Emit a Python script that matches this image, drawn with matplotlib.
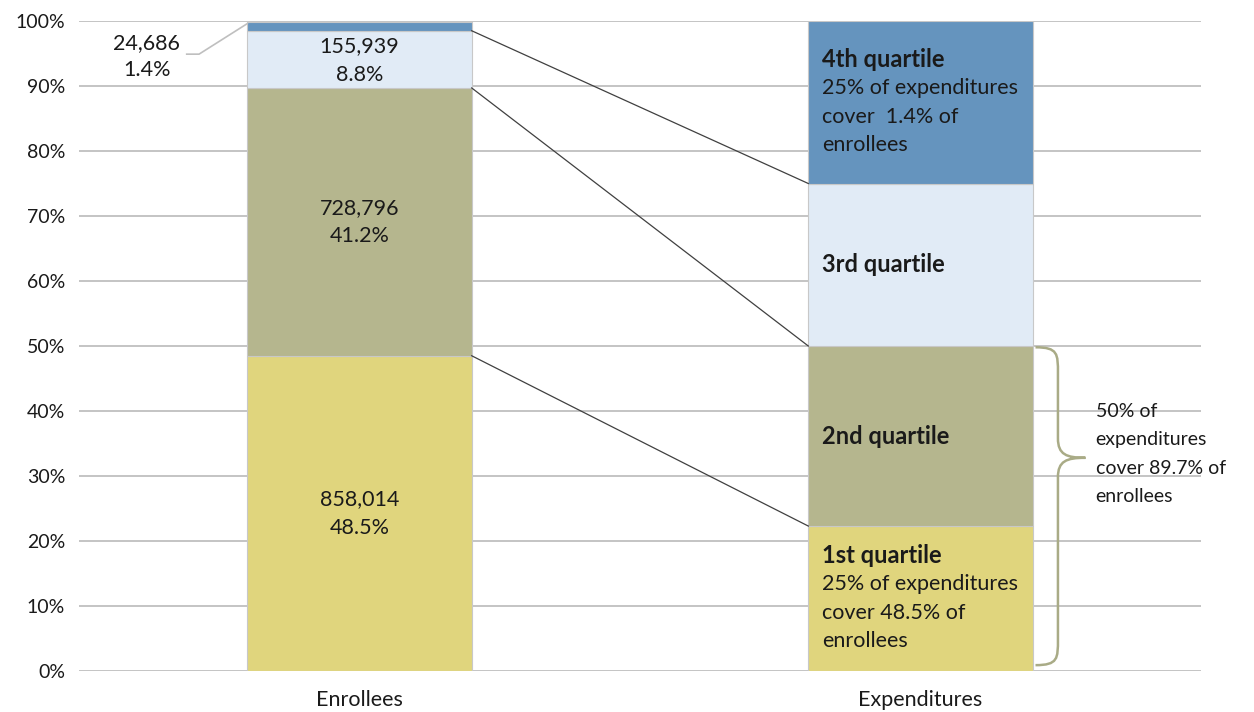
import matplotlib
matplotlib.use("Agg")
import matplotlib.pyplot as plt
from matplotlib.path import Path
from matplotlib.patches import PathPatch
import numpy as np

plt.rcParams['font.family'] = ['Lato', 'DejaVu Sans']

# ---- data ----
categories = ["Enrollees", "Expenditures"]
enrollee_counts = ["858,014", "728,796", "155,939", "24,686"]
enrollee_pct = [48.5, 41.2, 8.8, 1.4]
expenditure_pct = [22.3, 27.7, 25.0, 25.0]
quartile_names = ["1st quartile", "2nd quartile", "3rd quartile", "4th quartile"]
quartile_notes = [["25% of expenditures", "cover 48.5% of", "enrollees"],
                  [], [],
                  ["25% of expenditures", "cover  1.4% of", "enrollees"]]
brace_text = ["50% of", "expenditures", "cover 89.7% of", "enrollees"]
yticks = [0, 10, 20, 30, 40, 50, 60, 70, 80, 90, 100]

colors = ["#E0D57D", "#B5B68E", "#E1EBF6", "#6594BE"]
text_col = "#1a1a1a"
fs = 15.5
fs_bold = 17
fs_tick = 14
fs_brace = 14

fig = plt.figure(figsize=(12.54, 7.12), dpi=100)
ax = fig.add_axes([79/1254, 41/712, 1122/1254, 650/712])
ax.set_xlim(-0.5, 1.5)
ax.set_ylim(0, 100)

width = 0.4
x = np.arange(len(categories))

# gridlines
for t in yticks:
    ax.axhline(t, color="#BFBFBF", lw=1.3, zorder=0)

# stacked bars
enr_bottom = np.concatenate([[0], np.cumsum(enrollee_pct)[:-1]])
exp_bottom = np.concatenate([[0], np.cumsum(expenditure_pct)[:-1]])
ax.bar(x[0], enrollee_pct, width, bottom=enr_bottom, color=colors,
       edgecolor="#C8C8C8", linewidth=0.8, zorder=2)
ax.bar(x[1], expenditure_pct, width, bottom=exp_bottom, color=colors,
       edgecolor="#C8C8C8", linewidth=0.8, zorder=2)

# connector lines
enr_top = np.cumsum(enrollee_pct)
exp_top = np.cumsum(expenditure_pct)
for i in range(3):
    ax.plot([x[0] + width/2, x[1] - width/2], [enr_top[i], exp_top[i]],
            color="#404040", lw=0.9, zorder=3)

# enrollee labels
line_px = 28.5
pt = 72/100
for i in range(3):
    yc = enr_bottom[i] + enrollee_pct[i]/2
    if i == 2:
        yc = enr_bottom[i] + enrollee_pct[i]/2 - 0.2
    ax.annotate(enrollee_counts[i], (x[0], yc), xytext=(0, line_px/2*pt),
                textcoords="offset points", ha="center", va="center",
                fontsize=fs, color=text_col, zorder=4)
    ax.annotate(f"{enrollee_pct[i]}%", (x[0], yc), xytext=(0, -line_px/2*pt),
                textcoords="offset points", ha="center", va="center",
                fontsize=fs, color=text_col, zorder=4)

# outside label for the top segment
lx, ly = -0.379, 94.5
ax.annotate(enrollee_counts[3], (lx, ly), xytext=(0, 13.5*pt), textcoords="offset points",
            ha="center", va="center", fontsize=fs, color=text_col, annotation_clip=False)
ax.annotate(f"{enrollee_pct[3]}%", (lx, ly), xytext=(0, -13.5*pt), textcoords="offset points",
            ha="center", va="center", fontsize=fs, color=text_col, annotation_clip=False)
ax.plot([-0.308, -0.286, x[0] - width/2], [94.9, 94.9, enr_top[3] - 0.3],
        color="#BFBFBF", lw=1.2, zorder=3)

# expenditure labels
tx = x[1] - width/2 + 0.025
for i in range(4):
    yc = exp_bottom[i] + expenditure_pct[i]/2
    lines = [quartile_names[i]] + quartile_notes[i]
    n = len(lines)
    for j, ln in enumerate(lines):
        off = ((n - 1)/2 - j) * line_px * pt
        ax.annotate(ln, (tx, yc), xytext=(0, off), textcoords="offset points",
                    ha="left", va="center", fontsize=fs_bold if j == 0 else fs,
                    color=text_col, fontweight="bold" if j == 0 else "normal", zorder=4)

# brace
bx0, bx1, btip = 1.205, 1.245, 1.294
ytop, ybot, ymid = 49.8, 0.9, 32.8
verts = [(bx0, ytop), (bx1, ytop), (bx1, ytop - 1), (bx1, ytop - 4),
         (bx1, ymid + 3),
         (bx1, ymid + 0.5), (bx1 + 0.015, ymid), (btip, ymid),
         (bx1 + 0.015, ymid), (bx1, ymid - 0.5), (bx1, ymid - 3),
         (bx1, ybot + 4),
         (bx1, ybot + 1), (bx1, ybot), (bx0, ybot)]
codes = [Path.MOVETO, Path.CURVE4, Path.CURVE4, Path.CURVE4,
         Path.LINETO,
         Path.CURVE4, Path.CURVE4, Path.CURVE4,
         Path.CURVE4, Path.CURVE4, Path.CURVE4,
         Path.LINETO,
         Path.CURVE4, Path.CURVE4, Path.CURVE4]
ax.add_patch(PathPatch(Path(verts, codes), facecolor="none", edgecolor="#A9AB86",
                       lw=1.8, clip_on=False, zorder=3))

n = len(brace_text)
for j, ln in enumerate(brace_text):
    off = ((n - 1)/2 - j) * line_px * pt
    ax.annotate(ln, (1.312, 33.4), xytext=(0, off), textcoords="offset points",
                ha="left", va="center", fontsize=fs_brace, color=text_col,
                annotation_clip=False, zorder=5)

# axes styling
ax.set_yticks(yticks)
ax.set_yticklabels([f"{t}%" for t in yticks], fontsize=fs_tick, color=text_col)
ax.set_xticks(x)
ax.set_xticklabels(categories, fontsize=fs, color=text_col)
ax.tick_params(length=0, pad=10)
ax.tick_params(axis="x", pad=14)
for s in ax.spines.values():
    s.set_visible(False)

fig.savefig("out.png", dpi=100)
